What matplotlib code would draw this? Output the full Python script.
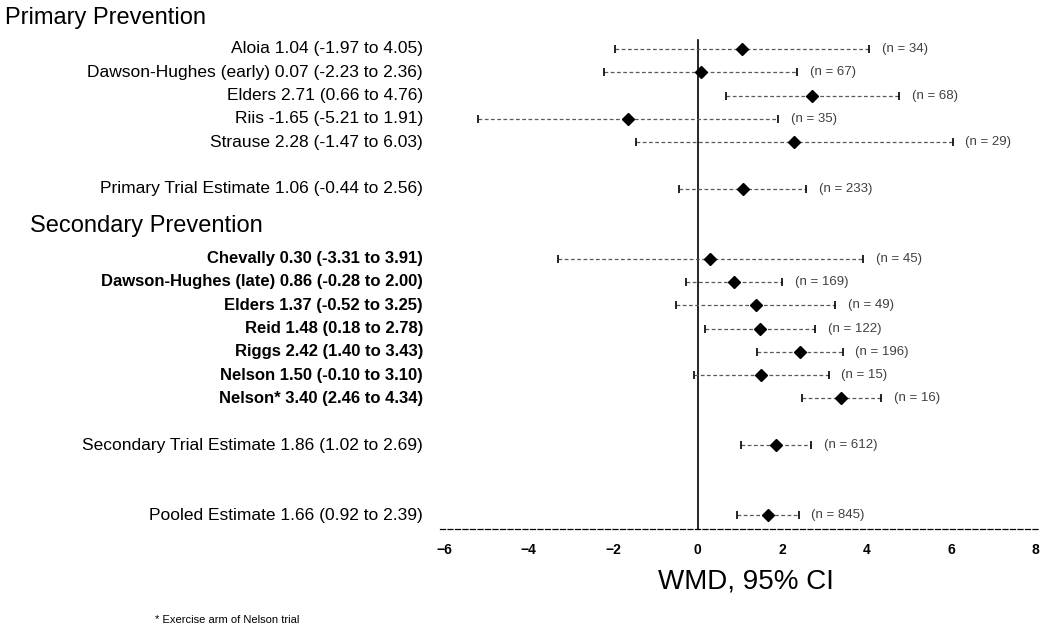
import numpy as np
import matplotlib.pyplot as plt
from matplotlib.transforms import blended_transform_factory

plt.rcParams['font.family'] = ['Liberation Sans', 'DejaVu Sans']

# trial rows (row position is the line index in the figure)
names = ["Aloia", "Dawson-Hughes (early)", "Elders", "Riis", "Strause",
         "Primary Trial Estimate",
         "Chevally", "Dawson-Hughes (late)", "Elders", "Reid", "Riggs",
         "Nelson", "Nelson*",
         "Secondary Trial Estimate",
         "Pooled Estimate"]
wmd = [1.04, 0.07, 2.71, -1.65, 2.28,
       1.06,
       0.30, 0.86, 1.37, 1.48, 2.42, 1.50, 3.40,
       1.86,
       1.66]
lo = [-1.97, -2.23, 0.66, -5.21, -1.47,
      -0.44,
      -3.31, -0.28, -0.52, 0.18, 1.40, -0.10, 2.46,
      1.02,
      0.92]
hi = [4.05, 2.36, 4.76, 1.91, 6.03,
      2.56,
      3.91, 2.00, 3.25, 2.78, 3.43, 3.10, 4.34,
      2.69,
      2.39]
n = [34, 67, 68, 35, 29,
     233,
     45, 169, 49, 122, 196, 15, 16,
     612,
     845]
rows = [0, 1, 2, 3, 4, 6, 9, 10, 11, 12, 13, 14, 15, 17, 20]
bold_rows = [9, 10, 11, 12, 13, 14, 15]
xticks = [-6, -4, -2, 0, 2, 4, 6, 8]

fig = plt.figure(figsize=(10.4, 6.33), dpi=100)
ax = fig.add_axes([440 / 1040, 104 / 633, 600 / 1040, 529 / 633])
ax.set_xlim(-6.1, 8.1)
ax.set_ylim(20.6, -2.1)

# zero line
ax.plot([0, 0], [-0.4, 20.6], color='black', lw=1.2, zorder=2)

lab_tr = blended_transform_factory(fig.transFigure, ax.transData)
for i in range(len(rows)):
    y = rows[i]
    ax.plot([lo[i], hi[i]], [y, y], color='0.35', lw=0.9,
            linestyle=(0, (3, 2)), zorder=3)
    ax.plot([lo[i], hi[i]], [y, y], marker='|', markersize=6,
            linestyle='none', color='black', mew=1.2, zorder=3)
    ax.plot(wmd[i], y, marker='D', markersize=6.5, color='black', zorder=4)
    ax.text(hi[i] + 0.3, y, f"(n = {n[i]})", fontsize=9.5, va='center',
            ha='left', color='0.25')
    label = f"{names[i]} {wmd[i]:.2f} ({lo[i]:.2f} to {hi[i]:.2f})"
    if y in bold_rows:
        ax.text(423 / 1040, y, label, transform=lab_tr, ha='right',
                va='center', fontsize=12, fontweight='bold')
    else:
        ax.text(423 / 1040, y, label, transform=lab_tr, ha='right',
                va='center', fontsize=12.5)

fig.text(5 / 1040, 1 - 18 / 633, "Primary Prevention", fontsize=17, va='center')
fig.text(30 / 1040, 1 - 226 / 633, "Secondary Prevention", fontsize=17, va='center')

for s in ['top', 'right', 'left']:
    ax.spines[s].set_visible(False)
ax.spines['bottom'].set_linestyle((0, (4, 2)))
ax.spines['bottom'].set_linewidth(0.9)
ax.set_yticks([])
ax.set_xticks(xticks)
ax.tick_params(axis='x', length=0, pad=10, labelsize=10)
for t in ax.get_xticklabels():
    t.set_fontweight('bold')
ax.set_xlabel("WMD, 95% CI", fontsize=20)
ax.xaxis.set_label_coords(0.51, -0.075)

fig.text(155 / 1040, 1 - 620 / 633, "* Exercise arm of Nelson trial", fontsize=8, va='center')

fig.savefig("out.png", dpi=100)
